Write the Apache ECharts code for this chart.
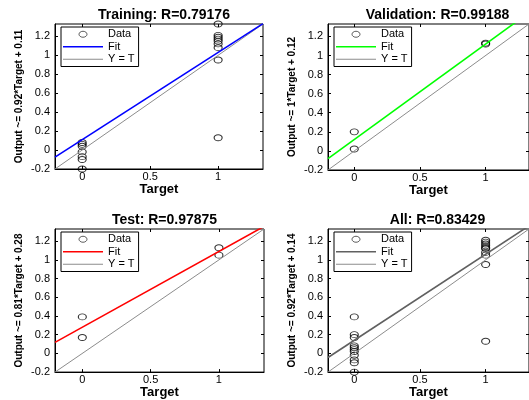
<!DOCTYPE html>
<html>
<head>
<meta charset="utf-8">
<script src="https://cdn.jsdelivr.net/npm/echarts@6/dist/echarts.min.js"></script>
<style>
  html, body { margin: 0; padding: 0; background: #fff; }
  #chart { width: 529px; height: 400px; }
</style>
</head>
<body>
<div id="chart"></div>
<script>
// panel names and labels
const panelNames = ['Training', 'Validation', 'Test', 'All'];
const panelTitles = ['Training: R=0.79176', 'Validation: R=0.99188', 'Test: R=0.97875', 'All: R=0.83429'];
const yAxisNames = [
  'Output ~= 0.92*Target + 0.11',
  'Output ~= 1*Target + 0.12',
  'Output ~= 0.81*Target + 0.28',
  'Output ~= 0.92*Target + 0.14'
];

// data (target, output)
const trainingTargets = [0, 0, 0, 0, 0, 0, 0, 1, 1, 1, 1, 1, 1, 1, 1, 1];
const trainingOutputs = [0.08, 0.06, 0.04, -0.02, -0.07, -0.1, -0.2, 1.33, 1.21, 1.19, 1.17, 1.15, 1.12, 1.08, 0.95, 0.13];
const validationTargets = [0, 0, 1, 1];
const validationOutputs = [0.2, 0.02, 1.12, 1.13];
const testTargets = [0, 0, 1, 1];
const testOutputs = [0.39, 0.17, 1.13, 1.05];
const allTargets = [0, 0, 0, 0, 0, 0, 0, 0, 0, 0, 0, 1, 1, 1, 1, 1, 1, 1, 1, 1, 1];
const allOutputs = [0.39, 0.2, 0.17, 0.08, 0.06, 0.04, 0.02, -0.02, -0.07, -0.1, -0.2, 1.21, 1.19, 1.17, 1.15, 1.13, 1.12, 1.08, 1.05, 0.95, 0.13];

// fit coefficients (from the axis labels)
const fitSlopes = [0.92, 1, 0.81, 0.92];
const fitIntercepts = [0.11, 0.12, 0.28, 0.14];

// axis ranges and ticks
const axisMin = -0.2;
const axisMax = 1.33;
const xTickValues = [0, 0.5, 1];
const yTickValues = [-0.2, 0, 0.2, 0.4, 0.6, 0.8, 1, 1.2];

const targetsList = [trainingTargets, validationTargets, testTargets, allTargets];
const outputsList = [trainingOutputs, validationOutputs, testOutputs, allOutputs];
const fitColors = ['#0000ff', '#00ff00', '#ff0000', '#606060'];

// grid boxes: [left, top, width, height]
const boxes = [[55, 24, 208, 145], [328, 24, 209, 146], [55, 229, 209, 144], [328, 229, 209, 144]];

const FONT = 'Liberation Sans, Arial, sans-serif';
// ellipse marker (drawn with beziers so it scales cleanly)
const circlePath = 'path://M0,3C0,1.34 1.79,0 4,0C6.21,0 8,1.34 8,3C8,4.66 6.21,6 4,6C1.79,6 0,4.66 0,3Z';
const fitIcon = 'path://M0,0H40V1.6H0Z';
const refIcon = 'path://M0,0H40V1H0Z';
const fmt = v => String(Math.round(v * 10) / 10);

const chart = echarts.init(document.getElementById('chart'), null, { renderer: 'canvas' });

const grids = [], xAxes = [], yAxes = [], series = [], titles = [], legends = [];

boxes.forEach((b, i) => {
  const [left, top, width, height] = b;
  const p = panelNames[i];
  grids.push({ left, top, width, height, show: true, borderColor: '#000', borderWidth: 1, backgroundColor: '#fff' });

  const tickIn = { show: true, inside: true, length: 3, lineStyle: { color: '#000' } };
  // bottom x axis
  xAxes.push({
    gridIndex: i, type: 'value', min: axisMin, max: axisMax, position: 'bottom',
    name: 'Target', nameLocation: 'middle', nameGap: 10,
    nameTextStyle: { fontFamily: FONT, fontSize: 13, fontWeight: 'bold', color: '#000' },
    axisLine: { show: true, onZero: false, lineStyle: { color: '#000' } },
    axisTick: Object.assign({ customValues: xTickValues }, tickIn),
    axisLabel: { customValues: xTickValues, formatter: fmt, margin: 2, fontFamily: FONT, fontSize: 11, color: '#000' },
    splitLine: { show: false }
  });
  // top x axis (ticks only)
  xAxes.push({
    gridIndex: i, type: 'value', min: axisMin, max: axisMax, position: 'top',
    axisLine: { show: false, onZero: false },
    axisTick: Object.assign({ customValues: xTickValues }, tickIn),
    axisLabel: { show: false }, splitLine: { show: false }
  });
  // left y axis
  yAxes.push({
    gridIndex: i, type: 'value', min: axisMin, max: axisMax, position: 'left',
    name: yAxisNames[i], nameLocation: 'middle', nameGap: 31,
    nameTextStyle: { fontFamily: FONT, fontSize: 10, fontWeight: 'bold', color: '#000' },
    axisLine: { show: true, onZero: false, lineStyle: { color: '#000' } },
    axisTick: Object.assign({ customValues: yTickValues }, tickIn),
    axisLabel: { customValues: yTickValues, formatter: fmt, margin: 5, fontFamily: FONT, fontSize: 11, color: '#000' },
    splitLine: { show: false }
  });
  // right y axis (ticks only)
  yAxes.push({
    gridIndex: i, type: 'value', min: axisMin, max: axisMax, position: 'right',
    axisLine: { show: false, onZero: false },
    axisTick: Object.assign({ customValues: yTickValues }, tickIn),
    axisLabel: { show: false }, splitLine: { show: false }
  });

  const a = fitSlopes[i], c = fitIntercepts[i];
  series.push({
    name: p + '|Y = T', type: 'line', xAxisIndex: i * 2, yAxisIndex: i * 2,
    data: [[axisMin, axisMin], [axisMax, axisMax]],
    symbol: 'none', lineStyle: { color: '#8c8c8c', width: 1 }, itemStyle: { color: '#8c8c8c' },
    animation: false, silent: true
  });
  series.push({
    name: p + '|Fit', type: 'line', xAxisIndex: i * 2, yAxisIndex: i * 2,
    data: [[axisMin, a * axisMin + c], [axisMax, a * axisMax + c]],
    symbol: 'none', lineStyle: { color: fitColors[i], width: 1.6 }, itemStyle: { color: fitColors[i] },
    animation: false, silent: true
  });
  series.push({
    name: p + '|Data', type: 'scatter', xAxisIndex: i * 2, yAxisIndex: i * 2,
    data: targetsList[i].map((t, k) => [t, outputsList[i][k]]),
    symbol: circlePath, symbolSize: [8, 6],
    itemStyle: { color: 'rgba(0,0,0,0)', borderColor: '#000', borderWidth: 1 },
    animation: false, silent: true
  });

  titles.push({
    text: panelTitles[i], left: left + width / 2, top: top - 21, textAlign: 'center',
    textStyle: { fontFamily: FONT, fontSize: 14, fontWeight: 'bold', color: '#000' }
  });

  legends.push({
    data: [
      { name: p + '|Data', icon: circlePath, itemStyle: { color: 'rgba(0,0,0,0)', borderColor: '#000', borderWidth: 0.8 } },
      { name: p + '|Fit', icon: fitIcon },
      { name: p + '|Y = T', icon: refIcon }
    ],
    formatter: name => name.split('|')[1],
    orient: 'vertical', left: left + 6, top: top + 3,
    itemWidth: 40, itemHeight: 6, itemGap: 0,
    padding: [1, 4, 1, 2],
    backgroundColor: '#fff', borderColor: '#000', borderWidth: 1,
    selectedMode: false,
    textStyle: { fontFamily: FONT, fontSize: 11, lineHeight: 12.5, color: '#000' }
  });
});

chart.setOption({
  backgroundColor: '#fff',
  animation: false,
  title: titles,
  legend: legends,
  grid: grids,
  xAxis: xAxes,
  yAxis: yAxes,
  series: series
});
</script>
</body>
</html>
